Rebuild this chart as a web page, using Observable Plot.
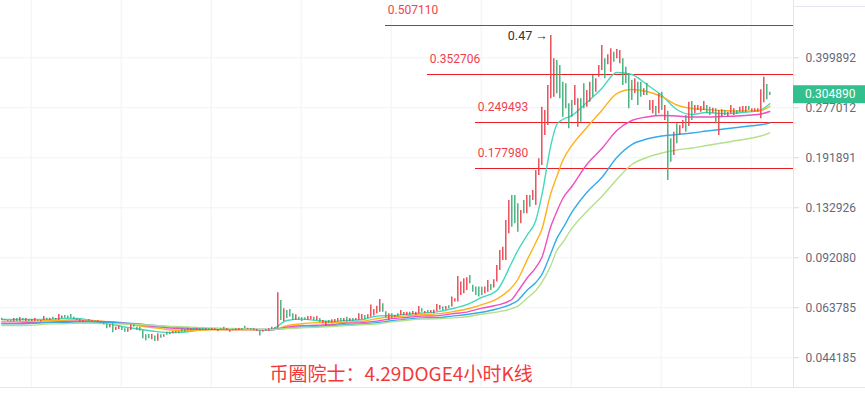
<!DOCTYPE html>
<html><head><meta charset="utf-8">
<script src="https://cdn.jsdelivr.net/npm/d3@7"></script>
<script src="https://cdn.jsdelivr.net/npm/@observablehq/plot@0.6"></script>
<style>
html,body{margin:0;padding:0;background:#fff;overflow:hidden}
#chart{width:865px;height:393px}
</style>
</head><body><div id="chart"></div>
<script>
// ---- candle data (4h DOGE), index = candle number ----
const highs = [
.0591,.0585,.0581,.0581,.0589,.0589,.0594,.0589,.0589,.0585,
.0585,.0589,.0581,.0581,.0598,.0591,.0591,.0595,.0590,.0607,
.0600,.0603,.0600,.0607,.0595,.0589,.0585,.0581,.0579,.0585,
.0581,.0580,.0580,.0577,.0574,.0567,.0564,.0567,.0553,.0557,
.0553,.0547,.0547,.0563,.0563,.0553,.0553,.0540,.0523,.0524,
.0524,.0518,.0527,.0523,.0523,.0533,.0533,.0536,.0536,.0536,
.0547,.0544,.0549,.0547,.0549,.0549,.0547,.0549,.0548,.0548,
.0548,.0547,.0544,.0547,.0553,.0548,.0540,.0545,.0547,.0548,
.0548,.0557,.0549,.0548,.0547,.0544,.0540,.0540,.0544,.0547,
.0553,.0552,.0712,.0673,.0633,.0625,.0630,.0610,.0606,.0595,
.0593,.0593,.0598,.0598,.0595,.0598,.0589,.0581,.0577,.0581,
.0584,.0585,.0589,.0589,.0589,.0595,.0589,.0589,.0589,.0610,
.0607,.0603,.0606,.0651,.0630,.0645,.0678,.0657,.0620,.0610,
.0610,.0603,.0610,.0625,.0616,.0617,.0617,.0621,.0617,.0644,
.0633,.0621,.0625,.0625,.0628,.0653,.0649,.0641,.0644,.0647,
.0690,.0682,.0802,.0770,.0789,.0795,.0808,.0752,.0743,.0743,
.0741,.0743,.0779,.0757,.0783,.0870,.0971,.0995,.1211,.1402,
.1455,.1455,.1369,.1303,.1402,.1455,.1455,.1509,.1748,.1905,
.2783,.2715,.3264,.4708,.3969,.3920,.3779,.3343,.3304,.2852,
.2922,.3263,.2959,.2959,.3304,.3145,.3343,.3512,.3428,.3779,
.4376,.3969,.4087,.4272,.4167,.4250,.4219,.3969,.3731,.3555,
.3385,.3428,.3343,.3343,.3185,.3319,.2922,.2922,.2796,.3070,
.3106,.2817,.2701,.2205,.2315,.2463,.2432,.2523,.2617,.2886,
.2901,.2817,.2817,.2796,.2901,.2817,.2782,.2761,.2749,.2715,
.2729,.2715,.2681,.2817,.2749,.2715,.2782,.2796,.2796,.2796,
.2749,.2749,.2749,.3161,.3468,.3287,.3106];
const lows = [
.0581,.0580,.0577,.0575,.0574,.0577,.0577,.0580,.0577,.0577,
.0577,.0577,.0577,.0574,.0581,.0581,.0581,.0585,.0583,.0581,
.0589,.0591,.0589,.0589,.0585,.0581,.0574,.0572,.0575,.0577,
.0574,.0574,.0572,.0567,.0563,.0547,.0551,.0531,.0540,.0544,
.0540,.0533,.0533,.0540,.0553,.0540,.0537,.0508,.0501,.0508,
.0504,.0498,.0499,.0510,.0514,.0521,.0523,.0527,.0529,.0527,
.0533,.0533,.0540,.0540,.0543,.0544,.0540,.0544,.0541,.0542,
.0540,.0540,.0536,.0540,.0544,.0541,.0533,.0539,.0540,.0540,
.0541,.0547,.0544,.0541,.0540,.0537,.0518,.0533,.0536,.0537,
.0544,.0544,.0547,.0581,.0577,.0589,.0596,.0581,.0581,.0581,
.0577,.0581,.0581,.0584,.0581,.0581,.0572,.0567,.0557,.0567,
.0570,.0572,.0574,.0574,.0577,.0574,.0577,.0577,.0581,.0581,
.0584,.0584,.0589,.0595,.0600,.0610,.0617,.0617,.0591,.0581,
.0589,.0593,.0595,.0603,.0603,.0603,.0603,.0606,.0603,.0610,
.0617,.0610,.0613,.0613,.0610,.0621,.0628,.0625,.0628,.0633,
.0641,.0665,.0665,.0698,.0707,.0724,.0761,.0715,.0698,.0690,
.0698,.0707,.0715,.0724,.0738,.0770,.0838,.0902,.0902,.1098,
.1153,.1182,.1111,.1182,.1272,.1272,.1335,.1402,.1352,.1685,
.1813,.2260,.2432,.2959,.2994,.3070,.2959,.2585,.2749,.2373,
.2585,.2817,.2402,.2492,.2749,.2782,.2886,.2994,.3106,.3468,
.3642,.3428,.3798,.3597,.3871,.3969,.3826,.3263,.3304,.2749,
.2922,.3070,.2817,.2994,.3032,.3032,.2715,.2650,.2598,.2650,
.2715,.2523,.1624,.1858,.1951,.2126,.2260,.2373,.2315,.2414,
.2523,.2650,.2715,.2681,.2715,.2650,.2617,.2662,.2463,.2260,
.2585,.2617,.2585,.2650,.2617,.2637,.2681,.2681,.2681,.2715,
.2681,.2681,.2681,.2555,.2873,.2937,.3032];
// u = rising candle (red), d = falling candle (green)
const directions = (
"ddudududud"+"uuduududuu"+"uddddduudd"+"ududdduduu"+"dduudddddd"+
"udududduud"+"dduuduudud"+"uuudduuduu"+"dduduududu"+"udududddud"+
"dduududuud"+"uuudududuu"+"uduuuuuddu"+"duduuuduuu"+"duduuuudud"+
"uuuuuudddd"+"duuduuuuuu"+"dddududuuu"+"uuuuuddddd"+"duudduuduu"+
"uduuduuddd"+"dudduduudu"+"dudduduudu"+"duuuuddudu"+"uduuuduuud"+
"uuuuudd").split("");

// ---- moving averages, sampled at candle indices ----
const maIdx = [0,5,10,15,20,25,30,35,40,45,50,55,60,65,70,75,80,85,90,95,
100,105,110,115,120,125,130,135,140,145,150,155,160,165,170,172,175,178,180,
183,185,187,190,195,200,205,210,215,220,225,230,235,240,245,250,253,256];
const ma1 = [.0585,.0585,.0585,.0585,.0590,.0590,.0580,.0570,.0556,.0547,
.0538,.0532,.0533,.0540,.0545,.0545,.0547,.0543,.0545,.0581,
.0587,.0581,.0577,.0581,.0584,.0600,.0603,.0608,.0614,.0619,
.0633,.0653,.0688,.0724,.0889,.0971,.1084,.1211,.1455,.2099,.2450,.2542,.2617,
.2879,.3192,.3589,.3537,.3287,.3032,.2735,.2637,.2676,.2656,.2666,.2695,.2725,.2852];
const ma2 = [.0577,.0577,.0578,.0581,.0582,.0584,.0581,.0576,.0569,.0560,
.0552,.0544,.0540,.0541,.0543,.0543,.0543,.0543,.0543,.0559,
.0567,.0572,.0572,.0574,.0577,.0589,.0597,.0601,.0607,.0610,
.0619,.0632,.0653,.0680,.0741,.0785,.0902,.1030,.1133,.1476,.1672,.1881,.2099,
.2396,.2715,.3076,.3168,.3122,.3009,.2827,.2755,.2735,.2715,.2705,.2705,.2715,.2796];
const ma3 = [.0570,.0570,.0572,.0574,.0576,.0578,.0577,.0576,.0572,.0564,
.0557,.0551,.0547,.0545,.0545,.0544,.0544,.0544,.0543,.0553,
.0559,.0561,.0564,.0570,.0572,.0578,.0589,.0594,.0600,.0601,
.0610,.0618,.0636,.0650,.0678,.0719,.0791,.0857,.0922,.1159,.1293,.1423,.1554,
.1827,.2054,.2344,.2523,.2589,.2617,.2608,.2589,.2589,.2598,.2608,.2627,.2646,.2695];
const ma4 = [.0567,.0567,.0569,.0572,.0573,.0574,.0574,.0573,.0570,.0567,
.0561,.0556,.0552,.0549,.0548,.0547,.0545,.0544,.0543,.0549,
.0553,.0556,.0560,.0563,.0566,.0572,.0580,.0587,.0592,.0593,
.0600,.0607,.0617,.0632,.0656,.0673,.0724,.0768,.0814,.0950,.1060,.1142,.1284,
.1487,.1660,.1923,.2115,.2202,.2251,.2276,.2301,.2335,.2366,.2396,.2427,.2445,.2477];
const ma5 = [.0560,.0560,.0561,.0566,.0567,.0569,.0569,.0567,.0566,.0564,
.0561,.0557,.0555,.0552,.0549,.0548,.0547,.0545,.0544,.0548,
.0551,.0553,.0556,.0560,.0563,.0566,.0575,.0582,.0587,.0588,
.0592,.0597,.0609,.0618,.0634,.0646,.0683,.0724,.0768,.0870,.0971,.1030,.1142,
.1293,.1444,.1636,.1827,.1923,.1987,.2031,.2061,.2099,.2138,.2178,.2218,.2251,.2305];

// ---- annotations ----
const levelValues = [0.507110, 0.352706, 0.249493, 0.177980];
const levelFrom = [128, 142, 158, 158];          // candle index where the level line starts
const yTicks = [0.399892, 0.277012, 0.191891, 0.132926, 0.092080, 0.063785, 0.044185];
const gridIdx = [9.8, 39.8, 69.8, 99.8, 129.8, 159.8, 189.8, 219.8, 249.8];
const lastPrice = 0.304890;
const peakIdx = 183, peakValue = 0.4708, peakText = "0.47 →";
const caption = "币圈院士：4.29DOGE4小时K线";

// ---- build tables ----
const candles = highs.map((h, i) => ({i, high: h, low: lows[i], up: directions[i] === "u"}));
const maColors = ["#45d8bd", "#ffb11b", "#ef4fc0", "#35acea", "#b5e08a"];
const maLists = [ma1, ma2, ma3, ma4, ma5];
const levels = levelValues.map((v, k) => ({v, from: levelFrom[k]}));
const xMax = 263.9;

const red = "#e8434f", green = "#3fae78";

const chart = Plot.plot({
  width: 865, height: 393,
  marginLeft: 0, marginRight: 72, marginTop: 0, marginBottom: 6,
  style: {fontFamily: "Roboto, sans-serif", fontSize: "12px", background: "#fff", overflow: "visible"},
  x: {domain: [-0.433, xMax], axis: null},
  y: {type: "log", domain: [0.035515, 0.60907], axis: null},
  marks: [
    Plot.gridY(yTicks, {stroke: "#eff2f7", strokeOpacity: 1}),
    Plot.gridX(gridIdx, {stroke: "#eff2f7", strokeOpacity: 1}),
    Plot.ruleX([xMax], {stroke: "#e3e6ec"}),
    Plot.axisY(yTicks, {anchor: "right", tickSize: 5, tickPadding: 7,
      tickFormat: d => d.toFixed(6), fill: "#636a7c", stroke: "#d5d9e0", fontSize: 12}),
    Plot.ruleY(levels, {y: "v", x1: "from", x2: xMax, stroke: "#ea1d25", strokeWidth: 1, shapeRendering: "crispEdges"}),
    Plot.text(levels, {x: "from", y: "v", text: d => d.v.toFixed(6), textAnchor: "start",
      lineAnchor: "bottom", dx: 2, dy: -11.5, fill: "#f0424d", fontSize: 12}),
    ...maLists.map((vals, k) => Plot.line(maIdx.map((idx, j) => ({i: idx, v: vals[j]})),
      {x: "i", y: "v", stroke: maColors[k], strokeWidth: 1.4, curve: "monotone-x"})),
    Plot.ruleX(candles, {x: "i", y1: "low", y2: "high", stroke: d => d.up ? red : green, strokeWidth: 1.4}),
    Plot.text([{i: peakIdx, v: peakValue}], {x: "i", y: "v", text: () => peakText,
      textAnchor: "end", dx: -3, fill: "#333333", fontSize: 12.5}),
    Plot.text([caption], {frameAnchor: "bottom-left", text: d => d, dx: 269, dy: -7,
      fontSize: 19, fill: "#f23a3d", fontFamily: "'Noto Sans CJK SC', sans-serif", textAnchor: "start", lineAnchor: "bottom"})
  ]
});

const svg = d3.select(chart);
const py = chart.scale("y").apply(lastPrice);
svg.append("line").attr("x1", 0).attr("x2", 865).attr("y1", 387.5).attr("y2", 387.5).attr("stroke", "#e3e6ec");
svg.append("line").attr("x1", 793).attr("x2", 865).attr("y1", 6.5).attr("y2", 6.5).attr("stroke", "#e3e6ec");
svg.append("rect").attr("x", 793).attr("y", py - 9).attr("width", 72).attr("height", 18).attr("fill", "#31c08e");
svg.append("text").attr("x", 805).attr("y", py).attr("dy", "0.35em").attr("fill", "#ffffff")
  .attr("text-anchor", "start").attr("font-size", 12).attr("font-family", "Roboto, sans-serif")
  .text(lastPrice.toFixed(6));

document.getElementById("chart").appendChild(chart);
</script>
</body></html>
